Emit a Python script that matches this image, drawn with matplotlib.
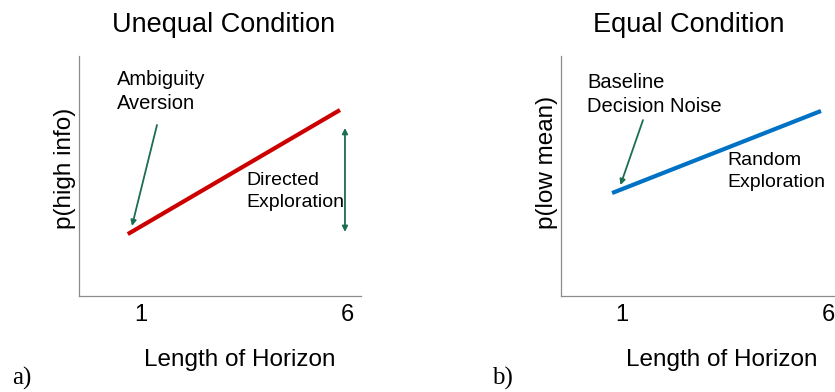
import matplotlib
matplotlib.use("Agg")
import matplotlib.pyplot as plt

plt.rcParams['font.family'] = ['Liberation Sans', 'DejaVu Sans']

# --- data (schematic predictions) ---
horizon_ticks = [1, 6]
unequal_x = [0.68, 5.83]
p_high_info = [0.258, 0.775]
equal_x = [0.76, 5.83]
p_low_mean = [0.429, 0.771]

RED = '#cc0000'
BLUE = '#0072c6'
GREEN = '#1b6e4f'
SPINE = '#8c8c8c'

fig = plt.figure(figsize=(8.35, 3.92), dpi=100)
ax1 = fig.add_axes([79 / 835, 1 - 296 / 392, (361 - 79) / 835, 240 / 392])
ax2 = fig.add_axes([561 / 835, 1 - 296 / 392, (835 - 561) / 835, 240 / 392])


def style_axes(ax, xlim):
    ax.set_xlim(*xlim)
    ax.set_ylim(0, 1)
    for s in ['top', 'right']:
        ax.spines[s].set_visible(False)
    for s in ['left', 'bottom']:
        ax.spines[s].set_color(SPINE)
        ax.spines[s].set_linewidth(0.9)
    ax.set_xticks(horizon_ticks)
    ax.set_yticks([])
    ax.tick_params(axis='x', length=0, pad=6, labelsize=17)


style_axes(ax1, (-0.505, 6.34))
style_axes(ax2, (-0.48, 6.17))

# left panel
ax1.plot(unequal_x, p_high_info, color=RED, lw=3, solid_capstyle='butt')
ax1.text(0.417, 0.852, 'Ambiguity\nAversion', fontsize=14.5, va='center',
         ha='left', linespacing=1.35)
ax1.annotate('', xy=(0.781, 0.292), xytext=(1.388, 0.7125),
             arrowprops=dict(arrowstyle='-|>', color=GREEN, lw=1.3,
                             mutation_scale=8, shrinkA=0, shrinkB=0))
ax1.annotate('', xy=(5.951, 0.267), xytext=(5.951, 0.70),
             arrowprops=dict(arrowstyle='<|-|>', color=GREEN, lw=1.3,
                             mutation_scale=8, shrinkA=0, shrinkB=0))
ax1.text(3.548, 0.435, 'Directed\nExploration', fontsize=14, va='center',
         ha='left', linespacing=1.35)

# right panel
ax2.plot(equal_x, p_low_mean, color=BLUE, lw=3, solid_capstyle='butt')
ax2.text(0.151, 0.84, 'Baseline\nDecision Noise', fontsize=14.5, va='center',
         ha='left', linespacing=1.35)
ax2.annotate('', xy=(0.963, 0.4625), xytext=(1.51, 0.733),
             arrowprops=dict(arrowstyle='-|>', color=GREEN, lw=1.3,
                             mutation_scale=8, shrinkA=0, shrinkB=0))
ax2.text(3.549, 0.519, 'Random\nExploration', fontsize=14, va='center',
         ha='left', linespacing=1.35)

# titles and labels
fig.text(224 / 835, 1 - 25 / 392, 'Unequal Condition', fontsize=19.5,
         ha='center', va='center')
fig.text(689 / 835, 1 - 25 / 392, 'Equal Condition', fontsize=19.5,
         ha='center', va='center')
fig.text(240 / 835, 1 - 360 / 392, 'Length of Horizon', fontsize=17.5,
         ha='center', va='center')
fig.text(722 / 835, 1 - 360 / 392, 'Length of Horizon', fontsize=17.5,
         ha='center', va='center')
fig.text(65 / 835, 1 - 168 / 392, 'p(high info)', fontsize=17.5,
         ha='center', va='center', rotation=90)
fig.text(547 / 835, 1 - 162 / 392, 'p(low mean)', fontsize=17.5,
         ha='center', va='center', rotation=90)
fig.text(12 / 835, 1 - 378 / 392, 'a)', fontsize=18, ha='left', va='center',
         family=['Liberation Serif', 'DejaVu Serif'])
fig.text(492 / 835, 1 - 378 / 392, 'b)', fontsize=18, ha='left', va='center',
         family=['Liberation Serif', 'DejaVu Serif'])

fig.savefig('out.png', dpi=100)
